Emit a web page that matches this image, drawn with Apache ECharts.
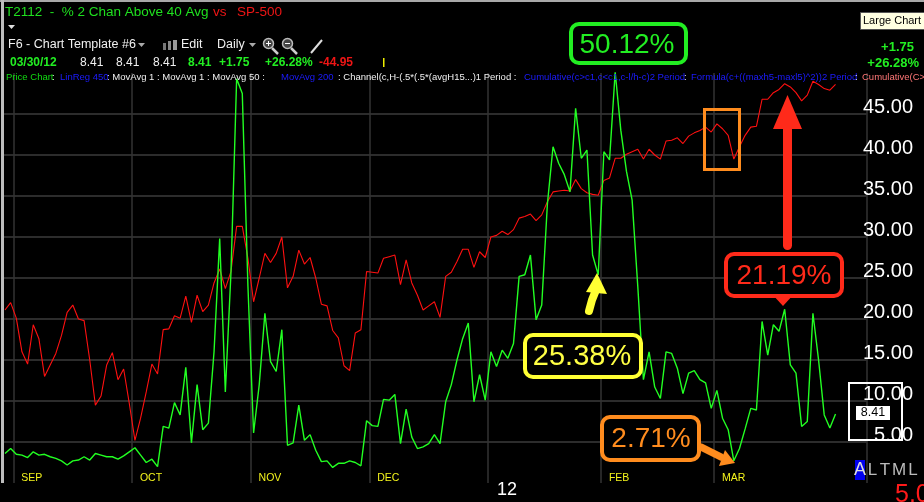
<!DOCTYPE html>
<html><head><meta charset="utf-8">
<script src="https://cdn.jsdelivr.net/npm/echarts@6/dist/echarts.min.js"></script>
<style>html,body{margin:0;padding:0;background:#000;overflow:hidden}#c{width:924px;height:502px}</style>
</head><body><div id="c"></div>
<script>
// ---------- DATA ----------
// trading days Aug 30 2011 .. Mar 30 2012 (NYSE holidays removed)
const holidays = ['2011-09-05','2011-11-24','2011-12-26','2012-01-02','2012-01-16','2012-02-20'];
const startDay = '2011-08-30', endDay = '2012-03-30';
const monthNames = ['', 'FEB', 'MAR', '', '', '', '', '', 'SEP', 'OCT', 'NOV', 'DEC'];
const yearLabel = '12';
const padSlots = 5;

// T2112 - % 2 Chan Above 40 Avg (right axis)
const pctAbove = [
 3.6,4.2,3.5,3.4,3.1,3.8,3.4,3.5,3.2,3.0,2.7,2.2,2.7,2.8,3.2,2.8,3.6,3.4,3.2,3.2,2.9,3.3,3.8,4.3,
 3.4,2.5,2.9,2.0,6.9,6.7,9.8,8.3,14.1,4.9,12.0,6.5,7.3,16.0,29.8,11.1,25.7,49.3,47.5,24.0,6.1,12.0,20.7,14.8,13.6,18.7,
 4.6,4.9,9.5,5.2,5.9,4.0,2.6,2.7,1.9,2.4,2.4,2.7,2.5,2.1,7.6,7.0,6.9,10.2,10.1,10.8,4.8,9.0,5.6,4.2,4.4,4.8,5.9,4.8,
 9.9,12.0,15.0,17.6,19.5,9.9,13.2,10.1,16.0,14.2,16.2,15.2,17.0,25.2,25.4,27.8,19.9,21.7,34.0,41.0,39.0,37.6,
 35.5,45.7,39.6,40.6,27.8,25.38,40.4,39.4,50.12,43.0,38.0,34.5,24.0,12.6,16.0,11.7,10.3,16.0,15.8,14.0,10.9,13.4,13.7,12.6,12.2,9.1,11.3,7.9,
 6.5,2.71,4.2,6.6,9.1,8.9,19.7,15.6,19.3,18.5,21.19,14.4,13.4,6.9,7.5,20.7,15.0,8.3,6.7,8.41
];
// SP-500 overlay, read in right-axis units
const sp500 = [
 21.1,22.0,20.1,16.0,14.5,19.3,17.6,13.0,14.4,15.8,18.0,20.8,21.7,20.0,19.8,15.0,9.5,10.6,14.4,15.9,12.6,13.9,9.7,5.2,7.9,
 11.1,14.5,13.3,18.7,18.8,20.4,20.1,22.8,19.6,22.9,20.9,21.7,24.4,26.1,23.7,25.8,31.3,31.3,27.4,22.1,25.0,28.0,26.9,28.0,30.0,23.8,
 25.2,28.4,26.7,27.5,25.0,21.8,21.6,18.6,17.7,14.3,13.7,18.3,18.7,25.8,25.7,25.6,27.4,27.6,27.8,24.2,27.2,24.4,22.9,21.1,
 21.6,22.1,20.2,25.2,25.7,27.0,28.5,28.5,26.3,28.2,27.5,30.0,30.2,30.7,30.3,30.9,32.3,32.5,32.8,32.0,32.7,34.3,35.5,35.6,35.7,
 35.6,37.0,35.9,35.4,35.2,35.1,36.9,37.2,39.6,39.6,40.1,40.4,40.7,39.5,40.7,40.0,39.5,41.7,41.8,42.1,41.4,42.3,42.7,43.0,43.4,42.8,43.8,43.2,42.4,39.5,41.0,42.4,43.4,43.5,46.8,46.8,47.6,48.0,48.7,48.3,47.6,46.6,47.3,49.0,48.6,48.1,47.9,48.6
];
const yMin = 0, yMax = 50, yStep = 5;
const lastValue = '8.41';

// ---------- categories ----------
function tradingDays(a, b) {
  const out = [];
  const d = new Date(a + 'T00:00:00Z'), e = new Date(b + 'T00:00:00Z');
  while (d <= e) {
    const s = d.toISOString().slice(0, 10), wd = d.getUTCDay();
    if (wd !== 0 && wd !== 6 && holidays.indexOf(s) < 0) out.push(s);
    d.setUTCDate(d.getUTCDate() + 1);
  }
  return out;
}
const dates = tradingDays(startDay, endDay);
const cats = dates.concat(new Array(padSlots).fill(''));
const monthStart = new Set();
let janIdx = -1;
dates.forEach((s, i) => {
  if (i > 0 && s.slice(5, 7) !== dates[i - 1].slice(5, 7)) {
    monthStart.add(i);
    if (s.slice(5, 7) === '01') janIdx = i;
  }
});

// ---------- chart ----------
const chart = echarts.init(document.getElementById('c'), null, {renderer: 'canvas'});
const F = '"Liberation Sans", Arial, sans-serif';
function T(x, y, text, fill, font, align, z) {
  return {type: 'text', x: x, y: y, z: z || 10, style: {text: text, fill: fill, font: font, align: align || 'left', verticalAlign: 'middle'}};
}
const GREEN = '#22ee22', WHITE = '#f0f0f0', BLUE = '#1c1cff';
const graphics = [
  {type: 'rect', shape: {x: 0, y: 0, width: 924, height: 2}, style: {fill: '#a8a8a8'}, z: 20},
  {type: 'rect', shape: {x: 1, y: 0, width: 3, height: 483}, style: {fill: '#bdbdbd'}, z: 20},
  T(5, 12, 'T2112  -  % 2 Chan Above 40 Avg', '#1fe01f', '13.5px ' + F),
  T(213, 12, 'vs', '#ee1515', '13.5px ' + F),
  T(237, 12, 'SP-500', '#ee1515', '13.5px ' + F),
  {type: 'polygon', shape: {points: [[8, 25], [15, 25], [11.5, 29]]}, style: {fill: '#e0e0e0'}},
  T(8, 45, 'F6 - Chart Template #6', WHITE, '12.5px ' + F),
  {type: 'polygon', shape: {points: [[138, 43], [145, 43], [141.5, 47]]}, style: {fill: '#aaaaaa'}},
  {type: 'rect', shape: {x: 163, y: 43, width: 3, height: 7}, style: {fill: '#777'}},
  {type: 'rect', shape: {x: 168, y: 41, width: 3, height: 9}, style: {fill: '#888'}},
  {type: 'rect', shape: {x: 173, y: 40, width: 4, height: 10}, style: {fill: '#999'}},
  T(181, 45, 'Edit', WHITE, '12.5px ' + F),
  T(217, 45, 'Daily', WHITE, '12.5px ' + F),
  {type: 'polygon', shape: {points: [[249, 43], [256, 43], [252.5, 47]]}, style: {fill: '#aaaaaa'}},
  {type: 'line', shape: {x1: 272, y1: 48, x2: 278, y2: 54}, style: {stroke: '#cccccc', lineWidth: 2.5}},
  {type: 'circle', shape: {cx: 268.5, cy: 43.5, r: 5}, style: {fill: '#444', stroke: '#bbbbbb', lineWidth: 1.5}},
  {type: 'line', shape: {x1: 266, y1: 43.5, x2: 271, y2: 43.5}, style: {stroke: '#fff', lineWidth: 1}},
  {type: 'line', shape: {x1: 268.5, y1: 41, x2: 268.5, y2: 46}, style: {stroke: '#fff', lineWidth: 1}},
  {type: 'line', shape: {x1: 291, y1: 48, x2: 297, y2: 54}, style: {stroke: '#cccccc', lineWidth: 2.5}},
  {type: 'circle', shape: {cx: 287.5, cy: 43.5, r: 5}, style: {fill: '#444', stroke: '#bbbbbb', lineWidth: 1.5}},
  {type: 'line', shape: {x1: 285, y1: 43.5, x2: 290, y2: 43.5}, style: {stroke: '#fff', lineWidth: 1}},
  {type: 'line', shape: {x1: 311, y1: 53, x2: 322, y2: 40}, style: {stroke: '#dddddd', lineWidth: 2}},
  T(10, 63, '03/30/12', GREEN, 'bold 12px ' + F),
  T(80, 63, '8.41', WHITE, '12px ' + F),
  T(116, 63, '8.41', WHITE, '12px ' + F),
  T(153, 63, '8.41', WHITE, '12px ' + F),
  T(188, 63, '8.41', GREEN, 'bold 12px ' + F),
  T(219, 63, '+1.75', GREEN, 'bold 12px ' + F),
  T(265, 63, '+26.28%', GREEN, 'bold 12px ' + F),
  T(319, 63, '-44.95', '#ee1515', 'bold 12px ' + F),
  {type: 'rect', shape: {x: 383, y: 58, width: 1.5, height: 9}, style: {fill: '#eeee00'}},
  T(6, 77.5, 'Price Chart', '#11dd11', '9.5px ' + F),
  T(52, 77.5, ':', WHITE, '9.5px ' + F),
  T(60, 77.5, 'LinReg 450', BLUE, '9.5px ' + F),
  T(107, 77.5, ': MovAvg 1 : MovAvg 1 : MovAvg 50 :', WHITE, '9.5px ' + F),
  T(281, 77.5, 'MovAvg 200', BLUE, '9.5px ' + F),
  T(338, 77.5, ': Channel(c,H-(.5*(.5*(avgH15...)1 Period :', WHITE, '9.5px ' + F),
  T(524, 77.5, 'Cumulative(c>c1,c<c1,c-l/h-c)2 Period', BLUE, '9.5px ' + F),
  T(684, 77.5, ':', WHITE, '9.5px ' + F),
  T(691, 77.5, 'Formula(c+((maxh5-maxl5)^2))2 Period', BLUE, '9.5px ' + F),
  T(855, 77.5, ':', WHITE, '9.5px ' + F),
  T(862, 77.5, 'Cumulative(C>', '#ff7777', '9.5px ' + F),
  {type: 'rect', shape: {x: 860.5, y: 12.5, width: 66, height: 17}, style: {fill: '#ffffe1', stroke: '#555', lineWidth: 1}, z: 12},
  T(863, 21, 'Large Chart', '#000', '11px ' + F, 'left', 13),
  T(914, 47, '+1.75', GREEN, 'bold 13px ' + F, 'right'),
  T(919, 63, '+26.28%', GREEN, 'bold 13px ' + F, 'right'),
  // annotations
  {type: 'rect', shape: {x: 571, y: 24, width: 115, height: 39, r: 8}, style: {fill: '#000', stroke: '#22ee22', lineWidth: 4}, z: 30},
  T(627, 45, '50.12%', '#22ee22', '28px ' + F, 'center', 31),
  {type: 'rect', shape: {x: 704.5, y: 109.5, width: 35, height: 60}, style: {fill: null, stroke: '#ff8c1e', lineWidth: 3}, z: 30},
  {type: 'rect', shape: {x: 783, y: 118, width: 9, height: 132, r: 4.5}, style: {fill: '#ff2a1a'}, z: 30},
  {type: 'polygon', shape: {points: [[773, 129], [802, 129], [787.5, 95]]}, style: {fill: '#ff2a1a'}, z: 30},
  {type: 'rect', shape: {x: 726, y: 254, width: 116, height: 42, r: 8}, style: {fill: '#000', stroke: '#ff2a1a', lineWidth: 4}, z: 30},
  {type: 'polygon', shape: {points: [[772, 294], [794, 294], [783, 306]]}, style: {fill: '#ff2a1a'}, z: 31},
  T(784, 276, '21.19%', '#ff2a1a', '28px ' + F, 'center', 31),
  {type: 'polyline', shape: {points: [[589, 311], [592, 300], [596, 290]]}, style: {stroke: '#ffff33', lineWidth: 8, lineCap: 'round', lineJoin: 'round'}, z: 30},
  {type: 'polygon', shape: {points: [[586, 292], [607, 294], [597, 273]]}, style: {fill: '#ffff33'}, z: 30},
  {type: 'rect', shape: {x: 525, y: 335, width: 116, height: 42, r: 8}, style: {fill: '#000', stroke: '#ffff33', lineWidth: 4}, z: 30},
  T(582, 356.5, '25.38%', '#ffff44', '29px ' + F, 'center', 31),
  {type: 'rect', shape: {x: 602, y: 417, width: 97, height: 43, r: 8}, style: {fill: '#000', stroke: '#ff8c1e', lineWidth: 4}, z: 30},
  T(651, 439, '2.71%', '#ff8c1e', '28px ' + F, 'center', 31),
  {type: 'polyline', shape: {points: [[701, 447], [711, 452], [721, 457]]}, style: {stroke: '#ff8c1e', lineWidth: 7, lineCap: 'round', lineJoin: 'round'}, z: 30},
  {type: 'polygon', shape: {points: [[719, 466], [725, 450], [735, 463]]}, style: {fill: '#ff8c1e'}, z: 30},
  // last value box
  {type: 'rect', shape: {x: 849, y: 383, width: 53, height: 57}, style: {fill: null, stroke: '#ffffff', lineWidth: 2}, z: 30},
  {type: 'rect', shape: {x: 856, y: 406, width: 34, height: 14}, style: {fill: '#ffffff'}, z: 30},
  T(873, 413, lastValue, '#000', '12.5px ' + F, 'center', 31),
  // bottom right
  {type: 'rect', shape: {x: 855, y: 460, width: 10, height: 20}, style: {fill: '#0000ee'}, z: 30},
  T(860, 470.5, 'A', '#dddddd', '18px ' + F, 'center', 31),
  T(872.5, 470.5, 'L', '#bbbbbb', '17px ' + F, 'center', 31),
  T(885, 470.5, 'T', '#bbbbbb', '17px ' + F, 'center', 31),
  T(899, 470.5, 'M', '#bbbbbb', '17px ' + F, 'center', 31),
  T(913, 470.5, 'L', '#bbbbbb', '17px ' + F, 'center', 31),
  T(895, 495, '5.0', '#ff1a1a', '25px ' + F, 'left', 31)
];

const option = {
  backgroundColor: '#000',
  animation: false,
  grid: {left: 2.17, right: 57.4, top: 73, bottom: 19, containLabel: false},
  xAxis: [{
    type: 'category', data: cats, boundaryGap: true,
    axisLine: {show: false}, axisTick: {show: false},
    splitLine: {show: true, interval: (i) => monthStart.has(i), lineStyle: {color: '#333333', width: 1.5}},
    axisLabel: {
      inside: true, margin: 5, interval: (i) => monthStart.has(i) && i !== janIdx,
      formatter: (v) => v ? monthNames[parseInt(v.slice(5, 7), 10) - 1] : '',
      color: '#f4f41c', fontFamily: F, fontSize: 10.5, align: 'left', verticalAlign: 'middle', padding: [0, 0, 0, 5]
    }
  }, {
    type: 'category', data: cats, boundaryGap: true, position: 'bottom', offset: 0,
    axisLine: {show: false}, axisTick: {show: false}, splitLine: {show: false},
    axisLabel: {
      interval: (i) => i === janIdx, formatter: () => yearLabel, margin: 7,
      color: '#ffffff', fontFamily: F, fontSize: 18, align: 'left', verticalAlign: 'middle', padding: [0, 0, 0, 6]
    }
  }],
  yAxis: {
    type: 'value', position: 'right', min: yMin, max: yMax, interval: yStep,
    axisLine: {show: false}, axisTick: {show: false},
    splitLine: {show: true, showMinLine: false, showMaxLine: false, lineStyle: {color: '#2c2c2c', width: 2}},
    axisLabel: {
      showMinLabel: false, showMaxLabel: false, formatter: (v) => v.toFixed(2),
      color: '#ffffff', fontFamily: F, fontSize: 20, align: 'right', margin: 46.4,
      verticalAlign: 'bottom', lineHeight: 14
    }
  },
  series: [{
    name: 'SP-500', type: 'line', data: sp500, xAxisIndex: 0, symbol: 'none',
    lineStyle: {color: '#ff1010', width: 1.1}, z: 2
  }, {
    name: 'T2112', type: 'line', data: pctAbove, xAxisIndex: 0, symbol: 'none',
    lineStyle: {color: '#22ff22', width: 1.4}, z: 3
  }],
  graphic: graphics
};
chart.setOption(option);
</script></body></html>
